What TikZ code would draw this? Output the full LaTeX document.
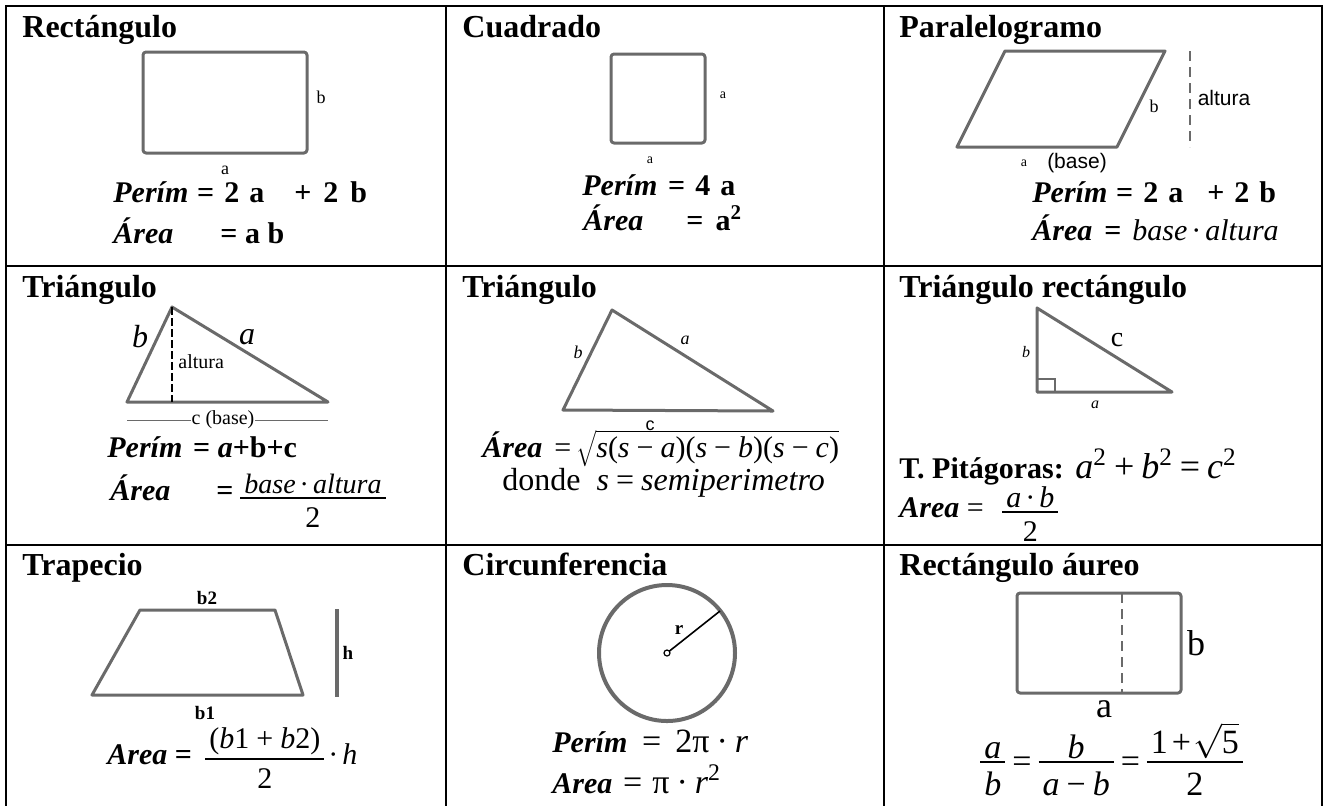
\documentclass[tikz,border=0pt]{standalone}
\usepackage{fontspec}
\setmainfont{Liberation Serif}
\newfontfamily\arialfont{Liberation Sans}
\definecolor{figgray}{HTML}{6A6A6A}
\newcommand{\bitxt}[1]{\textbf{\textit{#1}}}
\newcommand{\opsp}[1]{\hspace{3.5pt}{#1}\hspace{3.5pt}}
\newcommand{\dotsp}{\hspace{2pt}{\upshape·}\hspace{2pt}}
\newsavebox\fnumbox
\newsavebox\fdenbox
\newlength\fwd
\newcommand{\fracbox}[3][0.15em]{%
  \sbox\fnumbox{#2}\sbox\fdenbox{#3}%
  \setlength\fwd{\wd\fnumbox}\ifdim\wd\fdenbox>\fwd\setlength\fwd{\wd\fdenbox}\fi
  \addtolength\fwd{4pt}%
  \raisebox{#1}{\vbox{\hbox to\fwd{\hfil\usebox\fnumbox\hfil}\kern1.5pt\hrule height0.7pt}}%
  \hspace{-\fwd}%
  \raisebox{\dimexpr#1-0.95em\relax}{\hbox to\fwd{\hfil\usebox\fdenbox\hfil}}}
\tikzset{
  gridline/.style={draw=black, line width=1.4pt, line cap=rect},
  figline/.style={draw=figgray, line width=1.5pt, line join=round},
  dashline/.style={draw=figgray, line width=1pt, dash pattern=on 5pt off 3pt},
  title/.style={anchor=base west, inner sep=0pt, font=\fontsize{16}{18}\selectfont\bfseries},
  formula/.style={anchor=base west, inner sep=0pt, font=\fontsize{15}{17}\selectfont},
  lbl/.style={inner sep=0pt, font=\fontsize{9}{10}\selectfont},
  tinylbl/.style={inner sep=0pt, font=\fontsize{7}{8}\selectfont},
  sanslbl/.style={inner sep=0pt, font=\arialfont\fontsize{10.5}{12}\selectfont},
  boldlbl/.style={inner sep=0pt, font=\fontsize{9.5}{11}\selectfont\bfseries},
  biglbl/.style={inner sep=0pt, font=\fontsize{18}{20}\selectfont},
}
\begin{document}
\begin{tikzpicture}[x=0.5pt, y=-0.5pt]
\useasboundingbox (0,0) rectangle (1327,805);
% table
\foreach \gx in {6,446,884,1322} \draw[gridline] (\gx,6) -- (\gx,806);
\foreach \gy in {6,266,545} \draw[gridline] (6,\gy) -- (1322,\gy);
\node[title] (t1) at (22,37) {Rectángulo};
\node[title] (t2) at (462,37) {Cuadrado};
\node[title] (t3) at (899,37) {Paralelogramo};
\node[title] (t4) at (22,297) {Triángulo};
\node[title] (t5) at (462,297) {Triángulo};
\node[title] (t6) at (899,297) {Triángulo rectángulo};
\node[title] (t7) at (22,575) {Trapecio};
\node[title] (t8) at (462,575) {Circunferencia};
\node[title] (t9) at (899,575) {Rectángulo áureo};
% rectangulo
\draw[figline, rounded corners=1.5pt] (143,52) rectangle (307,153);
\node[lbl] (b1r) at (321,97) {b};
\node[lbl] (a1r) at (225,170) {a};
\node[formula] (p1) at (113,202) {\bitxt{Perím}};
\node[formula, xshift=4pt] (p1v) at (p1.base east)
  {\textbf{=\hspace{5pt}2\hspace{5pt}a\hspace{15pt}+\hspace{6pt}2\hspace{6pt}b}};
\node[formula] (ar1) at (113,243) {\bitxt{Área}};
\node[formula] (ar1v) at (220,243) {\textbf{= a b}};
% cuadrado
\draw[figline, rounded corners=1.5pt] (611,54) rectangle (705,143);
\node[tinylbl] (a2r) at (723,95) {a};
\node[tinylbl] (a2b) at (650,160) {a};
\node[formula] (p2) at (582,195) {\bitxt{Perím}};
\node[formula, xshift=5pt] (p2v) at (p2.base east) {\textbf{=\hspace{5pt}4\hspace{5pt}a}};
\node[formula] (ar2) at (583,230) {\bitxt{Área}};
\node[formula] (ar2v) at (686,230) {\textbf{=\hspace{6pt}a\textsuperscript{2}}};
% paralelogramo
\draw[figline] (1005,51) -- (1165,51) -- (1117,147) -- (957,147) -- cycle;
\draw[dashline] (1190,51) -- (1190,147);
\node[sanslbl] (h3) at (1224,98) {altura};
\node[lbl] (b3) at (1154,106) {b};
\node[tinylbl] (a3) at (1024,163) {a};
\node[sanslbl] (base3) at (1077,163) {(base)};
\node[formula] (p3) at (1032,202) {\bitxt{Perím}};
\node[formula, xshift=4pt] (p3v) at (p3.base east)
  {\textbf{=\hspace{5pt}2\hspace{5pt}a\hspace{12pt}+\hspace{5pt}2\hspace{5pt}b}};
\node[formula] (ar3) at (1032,240) {\bitxt{Área}};
\node[formula] (ar3v) at (1104,240) {\textbf{=}};
\node[formula, font=\fontsize{15}{17}\selectfont\itshape] (ar3m) at (1132,240) {base\dotsp altura};
% triangulo con altura
\draw[figline] (172,307) -- (328,402) -- (127,402) -- cycle;
\draw[black, line width=1.3pt, dash pattern=on 4pt off 1.5pt] (172,307) -- (172,402);
\node[inner sep=0pt, font=\fontsize{16}{18}\selectfont\itshape] (b4) at (140,337) {b};
\node[inner sep=0pt, font=\fontsize{16}{18}\selectfont\itshape] (a4) at (247,337) {a};
\node[lbl, anchor=west, font=\fontsize{10}{12}\selectfont] (h4) at (178,362) {altura};
\node[lbl, font=\fontsize{10}{12}\selectfont] (c4) at (223,420) {c (base)};
\coordinate (c4l) at (127,420);
\coordinate (c4r) at (328,420);
\draw[figgray, line width=0.5pt] (c4l) -- (c4.west);
\draw[figgray, line width=0.5pt] (c4.east) -- (c4r);
\node[formula] (p4) at (107,457) {\bitxt{Perím}};
\node[formula, xshift=5pt] (p4v) at (p4.base east) {\textbf{= \textit{a}+b+c}};
\node[formula] (ar4) at (110,500) {\bitxt{Área}};
\node[formula] (ar4v) at (216,500) {\textbf{=}};
\node[formula] (f4) at (240,503) {\fracbox{\fontsize{14}{16}\selectfont\itshape base\dotsp altura}{2}};
% triangulo, Heron
\draw[figline] (612,310) -- (773,411) -- (563,410) -- cycle;
\node[lbl, font=\fontsize{9}{10}\selectfont\itshape] (b5) at (578,352) {b};
\node[lbl, font=\fontsize{9}{10}\selectfont\itshape] (a5) at (685,340) {a};
\node[sanslbl, font=\arialfont\fontsize{9}{10}\selectfont] (c5) at (650,426) {c};
\node[formula] (ar5) at (482,457) {\bitxt{Área}};
\node[formula] (ar5v) at (554,457)
  {=\,$\sqrt{\mbox{\textit{s}(\textit{s}\opsp{−}\textit{a})(\textit{s}\opsp{−}\textit{b})(\textit{s}\opsp{−}\textit{c})}}$};
\node[formula, font=\fontsize{16}{18}\selectfont] (d5) at (502,490) {donde \ \textit{s}\opsp{=}\textit{semiperimetro}};
% triangulo rectangulo
\draw[figline] (1037,308) -- (1172,392) -- (1037,392) -- cycle;
\draw[figgray, line width=0.8pt] (1037,379) -- (1055,379) -- (1055,392);
\node[lbl, font=\fontsize{8}{9}\selectfont\itshape] (b6) at (1026,352) {b};
\node[lbl, font=\fontsize{14}{16}\selectfont] (c6) at (1117,340) {c};
\node[lbl, font=\fontsize{8}{9}\selectfont\itshape] (a6) at (1095,405) {a};
\node[formula] (pit) at (899,478) {\textbf{T. Pitágoras:}};
\node[formula, font=\fontsize{18}{20}\selectfont\itshape] (pitm) at (1075,478)
  {a\textsuperscript{\upshape 2}\opsp{\upshape +}b\textsuperscript{\upshape 2}\opsp{\upshape =}c\textsuperscript{\upshape 2}};
\node[formula] (ar6) at (899,517) {\bitxt{Area} =};
\node[formula] (f6) at (1002,517) {\fracbox{\itshape a\dotsp b}{2}};
% trapecio
\draw[figline] (140,610) -- (275,610) -- (303,695) -- (92,695) -- cycle;
\node[boldlbl] (b2t) at (207,598) {b2};
\node[boldlbl] (b1t) at (205,713) {b1};
\draw[figgray, line width=2pt] (337,609) -- (337,697);
\node[boldlbl] (h7) at (348,653) {h};
\node[formula] (ar7) at (107,764) {\bitxt{Area} \textbf{=}};
\node[formula] (f7) at (205,764) {\fracbox{(\textit{b}1\opsp{+}\textit{b}2)}{2}\dotsp\textit{h}};
% circunferencia
\draw[figgray, line width=2pt] (667,653) circle [radius=34pt];
\coordinate (o8) at (667,653);
\coordinate (r8) at (720,611);
\draw[black, line width=0.8pt] (o8) -- (r8);
\draw[black, fill=white, line width=0.6pt] (o8) circle [radius=1.5pt];
\node[boldlbl] (r8l) at (679,630) {r};
\node[formula] (p8) at (552,752) {\bitxt{Perím}};
\node[formula, xshift=7pt, font=\fontsize{17}{19}\selectfont] (p8v) at (p8.base east) {=\hspace{7pt}2π\opsp{·}\textit{r}};
\node[formula] (ar8) at (552,793) {\bitxt{Area}};
\node[formula, xshift=5pt, font=\fontsize{17}{19}\selectfont] (ar8v) at (ar8.base east) {=\hspace{5pt}π\opsp{·}\textit{r}\textsuperscript{2}};
% rectangulo aureo
\draw[figline, rounded corners=1.5pt] (1017,593) rectangle (1181,693);
\draw[dashline] (1122,593) -- (1122,693);
\node[biglbl] (b9) at (1196,643) {b};
\node[biglbl] (a9) at (1104,709) {a};
\node[formula, font=\fontsize{17}{19}\selectfont] (f9) at (980,772)
  {\fracbox[0.27em]{\textit{a}}{\textit{b}}\opsp{=}\fracbox[0.27em]{\textit{b}}{\textit{a}\opsp{−}\textit{b}}\opsp{=}%
   \fracbox[0.27em]{1\hspace{2pt}+\hspace{1pt}$\sqrt{\mbox{5}}$}{2}};
\end{tikzpicture}
\end{document}
